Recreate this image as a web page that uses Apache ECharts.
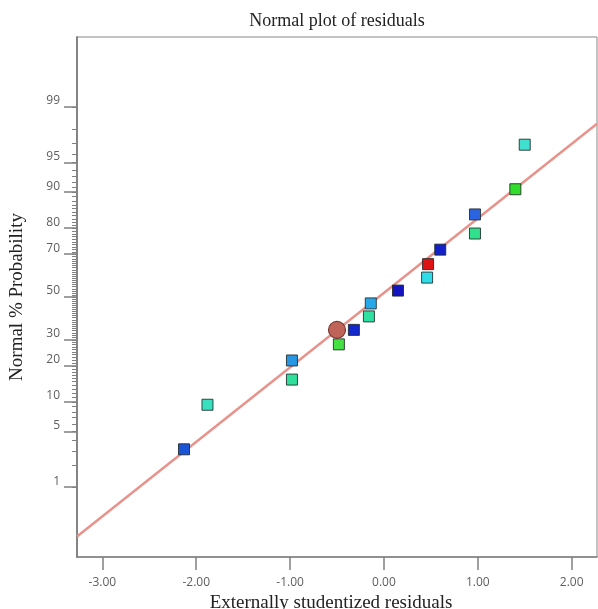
<!DOCTYPE html>
<html>
<head>
<meta charset="utf-8">
<script src="https://cdn.jsdelivr.net/npm/echarts@6.0.0/dist/echarts.min.js"></script>
<style>
  html, body { margin: 0; padding: 0; background: #fff; }
  #chart { width: 598px; height: 609px; }
</style>
</head>
<body>
<div id="chart"></div>
<script>
// residuals (x) and their normal % probability (y), low to high
const residuals = [-2.13, -1.88, -0.98, -0.98, -0.48, -0.32, -0.16, -0.14, 0.15, 0.46, 0.47, 0.60, 0.97, 0.97, 1.40, 1.50];
const probabilities = [3.125, 9.375, 15.625, 21.875, 28.125, 34.375, 40.625, 46.875, 53.125, 59.375, 65.625, 71.875, 78.125, 84.375, 90.625, 96.875];
const pointColors = ['#1a55d8', '#38e0c0', '#30e09a', '#2896e0', '#44e044', '#1428d0', '#30e0a0', '#28a8e8',
  '#1414c0', '#30dcea', '#dd1414', '#1420c8', '#30e08a', '#2a64e0', '#30dd2a', '#40e0d0'];

// highlighted run (circle)
const markResid = [-0.50];
const markProb = [34.375];

// fitted normal line, end points
const lineResid = [-3.27, 2.27];
const lineProb = [0.17, 98.3];

// tick labels
const xTicks = [-3, -2, -1, 0, 1, 2];
const yMajorPct = [1, 5, 10, 20, 30, 50, 70, 80, 90, 95, 99];
const yMinorPct = [];
for (let i = 1; i < 100; i++) yMinorPct.push(i);

// inverse standard normal cdf (Acklam), used as the y scale
function probit(p) {
  const a = [-3.969683028665376e+01, 2.209460984245205e+02, -2.759285104469687e+02, 1.383577518672690e+02, -3.066479806614716e+01, 2.506628277459239e+00];
  const b = [-5.447609879822406e+01, 1.615858368580409e+02, -1.556989798598866e+02, 6.680131188771972e+01, -1.328068155288572e+01];
  const c = [-7.784894002430293e-03, -3.223964580411365e-01, -2.400758277161838e+00, -2.549732539343734e+00, 4.374664141464968e+00, 2.938163982698783e+00];
  const d = [7.784695709041462e-03, 3.224671290700398e-01, 2.445134137142996e+00, 3.754408661907416e+00];
  const pl = 0.02425;
  let q, r;
  if (p < pl) {
    q = Math.sqrt(-2 * Math.log(p));
    return (((((c[0]*q+c[1])*q+c[2])*q+c[3])*q+c[4])*q+c[5]) / ((((d[0]*q+d[1])*q+d[2])*q+d[3])*q+1);
  }
  if (p > 1 - pl) {
    q = Math.sqrt(-2 * Math.log(1 - p));
    return -(((((c[0]*q+c[1])*q+c[2])*q+c[3])*q+c[4])*q+c[5]) / ((((d[0]*q+d[1])*q+d[2])*q+d[3])*q+1);
  }
  q = p - 0.5;
  r = q * q;
  return (((((a[0]*r+a[1])*r+a[2])*r+a[3])*r+a[4])*r+a[5])*q / (((((b[0]*r+b[1])*r+b[2])*r+b[3])*r+b[4])*r+1);
}
const z = pct => probit(pct / 100);

const yMajorZ = yMajorPct.map(z);
const yMinorZ = yMinorPct.map(z);
const yMin = -3.18, yMax = 3.18;

let pts = residuals.map((x, i) => ({
  value: [x, z(probabilities[i])],
  itemStyle: { color: pointColors[i] }
}));

let myChart = echarts.init(document.getElementById('chart'));

let tickText = { color: '#5e5e5e', fontSize: 12, fontFamily: 'Open Sans' };

let option = {
  animation: false,
  title: {
    text: 'Normal plot of residuals',
    left: 332,
    textAlign: 'center',
    top: 7,
    textStyle: { fontFamily: 'Liberation Serif', fontSize: 18, fontWeight: 'normal', color: '#222' }
  },
  grid: {
    left: 77, right: 1, top: 37, bottom: 52,
    outerBoundsMode: 'none',
    containLabel: false,
    show: true, borderColor: '#888', borderWidth: 1
  },
  xAxis: {
    type: 'value',
    min: -3.27, max: 2.27,
    name: 'Externally studentized residuals',
    nameLocation: 'middle',
    nameGap: 33,
    nameTextStyle: { fontFamily: 'Liberation Serif', fontSize: 19, color: '#222', padding: [0, 12, 0, 0] },
    axisLine: { onZero: false, lineStyle: { color: '#808080', width: 1.5 } },
    axisTick: { customValues: xTicks, length: 13, lineStyle: { color: '#808080', width: 1.5 } },
    axisLabel: Object.assign({ customValues: xTicks, margin: 20, formatter: v => v.toFixed(2) }, tickText),
    splitLine: { show: false }
  },
  yAxis: [{
    type: 'value',
    min: yMin, max: yMax,
    name: 'Normal % Probability',
    nameLocation: 'middle',
    nameGap: 50,
    nameTextStyle: { fontFamily: 'Liberation Serif', fontSize: 19, color: '#222' },
    axisLine: { onZero: false, lineStyle: { color: '#808080', width: 1.5 } },
    axisTick: { customValues: yMajorZ, length: 13, lineStyle: { color: '#808080', width: 1.5 } },
    axisLabel: Object.assign({
      customValues: yMajorZ,
      margin: 17,
      verticalAlign: 'bottom',
      formatter: v => {
        let best = 0;
        for (let i = 1; i < yMajorZ.length; i++) {
          if (Math.abs(yMajorZ[i] - v) < Math.abs(yMajorZ[best] - v)) best = i;
        }
        return String(yMajorPct[best]);
      }
    }, tickText),
    splitLine: { show: false }
  }, {
    type: 'value',
    min: yMin, max: yMax,
    position: 'left',
    axisLine: { show: true, onZero: false, lineStyle: { color: '#808080', width: 1.5 } },
    axisTick: { customValues: yMinorZ, length: 5, lineStyle: { color: '#808080', width: 1 } },
    axisLabel: { show: false },
    splitLine: { show: false }
  }],
  series: [{
    type: 'line',
    data: lineResid.map((x, i) => [x, z(lineProb[i])]),
    symbol: 'none',
    z: 1,
    lineStyle: { color: '#e8928c', width: 2.5 },
    silent: true
  }, {
    type: 'scatter',
    data: pts,
    symbol: 'rect',
    symbolSize: 11,
    z: 3,
    itemStyle: { borderColor: 'rgba(30,40,40,0.85)', borderWidth: 1, opacity: 1 }
  }, {
    type: 'scatter',
    data: markResid.map((x, i) => [x, z(markProb[i])]),
    symbol: 'circle',
    symbolSize: 17,
    z: 4,
    itemStyle: { color: '#c0645a', borderColor: '#7a3a34', borderWidth: 1.2, opacity: 1 }
  }]
};

myChart.setOption(option, true);
window.addEventListener('resize', () => {
  myChart.resize();
});
</script>
</body>
</html>
